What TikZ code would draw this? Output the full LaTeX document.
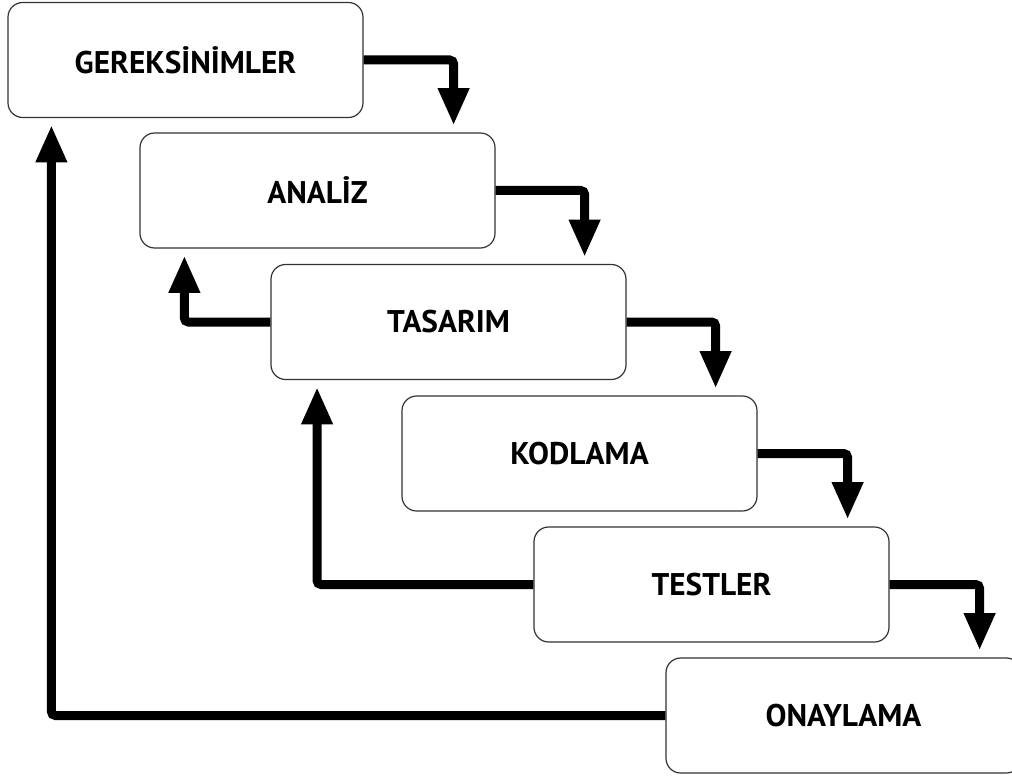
\documentclass[tikz,border=0pt]{standalone}
\usepackage{fontspec}
\setmainfont{PT Sans}
\usetikzlibrary{arrows.meta}
\tikzset{
  phase/.style={draw=black!80, line width=0.9pt, rounded corners=11pt, fill=white,
    minimum width=266.25pt, minimum height=86.25pt, inner sep=0pt,
    font=\bfseries\fontsize{23.5}{28}\selectfont},
  flow/.style={line width=6.75pt, rounded corners=3pt, line cap=butt,
    -{Triangle[length=28pt,width=22pt]}}
}
\newcommand{\lbl}[1]{\raisebox{-4.5pt}{#1}}
\begin{document}
\begin{tikzpicture}[x=0.75pt,y=-0.75pt]
\clip (0,0) rectangle (1012,780);
\fill[white] (0,0) rectangle (1012,780);
\node[phase] (g) at (185.5,60)  {\lbl{GEREKSİNİMLER}};
\node[phase] (a) at (317.5,190.5) {\lbl{ANALİZ}};
\node[phase] (t) at (448.5,322) {\lbl{TASARIM}};
\node[phase] (k) at (579.5,453.5) {\lbl{KODLAMA}};
\node[phase] (s) at (711.5,584.5) {\lbl{TESTLER}};
\node[phase] (o) at (843.5,715.5) {\lbl{ONAYLAMA}};
\draw[flow] (g.east) -| ([xshift=-31.5pt,yshift=5.25pt]a.north east);
\draw[flow] (a.east) -| ([xshift=-31.5pt,yshift=5.25pt]t.north east);
\draw[flow] (t.east) -| ([xshift=-31.5pt,yshift=5.25pt]k.north east);
\draw[flow] (k.east) -| ([xshift=-31.5pt,yshift=5.25pt]s.north east);
\draw[flow] (s.east) -| ([xshift=-31.5pt,yshift=5.25pt]o.north east);
\draw[flow] (t.west) -| ([xshift=33.75pt,yshift=-5.25pt]a.south west);
\draw[flow] (s.west) -| ([xshift=35pt,yshift=-5.25pt]t.south west);
\draw[flow] (o.west) -| ([xshift=33pt,yshift=-5.25pt]g.south west);
\end{tikzpicture}
\end{document}
